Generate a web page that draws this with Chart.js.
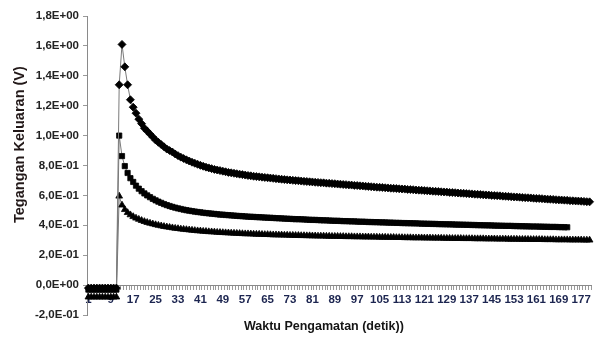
<!DOCTYPE html>
<html>
<head>
<meta charset="utf-8">
<script src="https://cdn.jsdelivr.net/npm/chart.js@4/dist/chart.umd.min.js"></script>
<style>
  html, body { margin: 0; padding: 0; background: #fff; }
  #wrap { width: 596px; height: 343px; }
</style>
</head>
<body>
<div id="wrap"><canvas id="c" width="596" height="343"></canvas></div>
<script>
// Categories: observation time 1..180 (detik)
const categories = [];
for (let i = 1; i <= 180; i++) categories.push(String(i));

// X tick labels shown (every 8th category)
const tickLabels = ['1','9','17','25','33','41','49','57','65','73','81','89','97','105','113','121','129','137','145','153','161','169','177'];

// Y tick values
const yTicks = [-0.2, 0, 0.2, 0.4, 0.6, 0.8, 1.0, 1.2, 1.4, 1.6, 1.8];

// Axis titles
const xTitle = 'Waktu Pengamatan (detik))';
const yTitle = 'Tegangan Keluaran (V)';

// Series 1 (diamonds)
const seriesDiamond = [
  -0.02,-0.02,-0.02,-0.02,-0.02,-0.02,-0.02,-0.02,-0.02,-0.02,
  -0.02,1.34,1.61,1.46,1.34,1.24,1.19,1.15,1.11,1.08,
  1.05,1.03,1.01,0.99,0.97,0.955,0.94,0.925,0.91,0.90,
  0.89,0.877,0.866,0.856,0.847,0.838,0.830,0.822,0.815,0.808,
  0.801,0.795,0.789,0.784,0.779,0.774,0.770,0.766,0.762,0.758,
  0.754,0.751,0.748,0.745,0.742,0.739,0.736,0.733,0.731,0.728,
  0.726,0.724,0.722,0.720,0.718,0.716,0.714,0.712,0.710,0.708,
  0.706,0.704,0.703,0.701,0.699,0.698,0.696,0.694,0.693,0.691,
  0.690,0.688,0.687,0.685,0.684,0.682,0.681,0.679,0.678,0.676,
  0.675,0.673,0.672,0.670,0.669,0.667,0.666,0.664,0.663,0.661,
  0.660,0.658,0.657,0.655,0.654,0.653,0.651,0.650,0.648,0.647,
  0.646,0.644,0.643,0.642,0.640,0.639,0.638,0.636,0.635,0.634,
  0.632,0.631,0.630,0.628,0.627,0.626,0.624,0.623,0.622,0.620,
  0.619,0.618,0.616,0.615,0.614,0.612,0.611,0.610,0.608,0.607,
  0.606,0.604,0.603,0.602,0.600,0.599,0.598,0.597,0.595,0.594,
  0.593,0.591,0.590,0.589,0.588,0.586,0.585,0.584,0.583,0.581,
  0.580,0.579,0.578,0.576,0.575,0.574,0.573,0.571,0.570,0.569,
  0.568,0.567,0.565,0.564,0.563,0.562,0.561,0.560,0.558,0.557
];

// Series 2 (squares)
const seriesSquare = [
  -0.03,-0.03,-0.03,-0.03,-0.03,-0.03,-0.03,-0.03,-0.03,-0.03,
  -0.03,1.00,0.863,0.796,0.75,0.715,0.69,0.665,0.645,0.628,
  0.613,0.60,0.588,0.577,0.567,0.558,0.55,0.542,0.535,0.529,
  0.523,0.518,0.513,0.509,0.505,0.501,0.498,0.495,0.492,0.489,
  0.487,0.484,0.482,0.480,0.478,0.476,0.474,0.472,0.471,0.469,
  0.468,0.466,0.465,0.463,0.462,0.461,0.459,0.458,0.457,0.456,
  0.455,0.454,0.453,0.452,0.451,0.450,0.449,0.448,0.447,0.446,
  0.445,0.444,0.443,0.442,0.441,0.441,0.440,0.439,0.438,0.437,
  0.436,0.436,0.435,0.434,0.433,0.433,0.432,0.431,0.430,0.430,
  0.429,0.428,0.428,0.427,0.426,0.426,0.425,0.424,0.424,0.423,
  0.422,0.422,0.421,0.421,0.420,0.419,0.419,0.418,0.418,0.417,
  0.416,0.416,0.415,0.415,0.414,0.414,0.413,0.413,0.412,0.411,
  0.411,0.410,0.410,0.409,0.409,0.408,0.408,0.407,0.407,0.406,
  0.406,0.405,0.405,0.404,0.404,0.403,0.403,0.402,0.402,0.401,
  0.401,0.400,0.400,0.399,0.399,0.398,0.398,0.397,0.397,0.396,
  0.396,0.396,0.395,0.395,0.394,0.394,0.393,0.393,0.392,0.392,
  0.392,0.391,0.391,0.390,0.390,0.389,0.389,0.389,0.388,0.388,
  0.387,0.387
];

// Series 3 (triangles)
const seriesTriangle = [
  -0.08,-0.08,-0.08,-0.08,-0.08,-0.08,-0.08,-0.08,-0.08,-0.08,
  -0.08,0.595,0.535,0.505,0.485,0.47,0.458,0.448,0.44,0.432,
  0.425,0.419,0.414,0.409,0.404,0.40,0.396,0.392,0.389,0.386,
  0.383,0.380,0.378,0.375,0.373,0.371,0.369,0.367,0.365,0.363,
  0.362,0.360,0.359,0.357,0.356,0.355,0.353,0.352,0.351,0.350,
  0.349,0.348,0.347,0.346,0.345,0.344,0.343,0.343,0.342,0.341,
  0.340,0.340,0.339,0.338,0.338,0.337,0.336,0.336,0.335,0.335,
  0.334,0.334,0.333,0.333,0.332,0.332,0.331,0.331,0.330,0.330,
  0.329,0.329,0.328,0.328,0.328,0.327,0.327,0.326,0.326,0.326,
  0.325,0.325,0.324,0.324,0.324,0.323,0.323,0.323,0.322,0.322,
  0.322,0.321,0.321,0.321,0.320,0.320,0.320,0.319,0.319,0.319,
  0.318,0.318,0.318,0.317,0.317,0.317,0.316,0.316,0.316,0.316,
  0.315,0.315,0.315,0.314,0.314,0.314,0.314,0.313,0.313,0.313,
  0.312,0.312,0.312,0.312,0.311,0.311,0.311,0.311,0.310,0.310,
  0.310,0.310,0.309,0.309,0.309,0.309,0.308,0.308,0.308,0.308,
  0.307,0.307,0.307,0.307,0.306,0.306,0.306,0.306,0.305,0.305,
  0.305,0.305,0.305,0.304,0.304,0.304,0.304,0.303,0.303,0.303,
  0.303,0.303,0.302,0.302,0.302,0.302,0.302,0.301,0.301,0.301
];

function fmtSci(v) {
  const r = Math.round(v * 10) / 10;
  if (Math.abs(r) < 1e-9) return '0,0E+00';
  let e = Math.floor(Math.log10(Math.abs(r)) + 1e-9);
  let m = r / Math.pow(10, e);
  let ms = m.toFixed(1).replace('.', ',');
  let es = (e < 0 ? '-' : '+') + String(Math.abs(e)).padStart(2, '0');
  return ms + 'E' + es;
}

const FONT = "'Liberation Sans', Arial, sans-serif";

// Axis titles placed like the original (Excel-style offsets)
const axisTitlePlugin = {
  id: 'axisTitles',
  afterDraw(chart) {
    const ctx = chart.ctx;
    const ca = chart.chartArea;
    ctx.save();
    ctx.fillStyle = '#151515';
    ctx.textAlign = 'center';
    ctx.textBaseline = 'middle';
    ctx.font = "bold 12.5px " + FONT;
    ctx.fillText(xTitle, ca.left + (ca.right - ca.left) * 0.47, ca.bottom + 12);
    ctx.translate(20, ca.top + (ca.bottom - ca.top) * 0.43);
    ctx.rotate(-Math.PI / 2);
    ctx.font = "bold 14.5px " + FONT;
    ctx.fillStyle = '#221818';
    ctx.fillText(yTitle, 0, 0);
    ctx.restore();
  }
};

const ds = (data, style, radius) => ({
  data,
  borderColor: '#7a7a7a',
  borderWidth: 1,
  pointStyle: style,
  pointRadius: radius,
  pointBackgroundColor: '#000',
  pointBorderColor: '#000',
  pointBorderWidth: 0.8,
  tension: 0,
  fill: false
});

new Chart(document.getElementById('c'), {
  type: 'line',
  data: {
    labels: categories,
    datasets: [
      ds(seriesDiamond, 'rectRot', 4),
      ds(seriesSquare, 'rect', 3.7),
      ds(seriesTriangle, 'triangle', 3.9)
    ]
  },
  plugins: [axisTitlePlugin],
  options: {
    responsive: false,
    animation: false,
    events: [],
    layout: { padding: { left: 12, right: 5, top: 16, bottom: 28 } },
    plugins: {
      legend: { display: false },
      tooltip: { enabled: false },
      title: { display: false }
    },
    scales: {
      x: {
        type: 'category',
        position: { y: 0 },
        offset: true,
        grid: {
          display: true,
          drawOnChartArea: false,
          drawTicks: true,
          tickLength: 4,
          color: '#9a9a9a',
          offset: true
        },
        border: { display: true, color: '#8a8a8a', width: 1 },
        ticks: {
          autoSkip: false,
          maxRotation: 0,
          minRotation: 0,
          padding: 4,
          color: '#1c2550',
          font: { family: FONT, size: 11.5, weight: 'bold' },
          callback: function (val, idx) {
            const lab = this.getLabelForValue(val);
            return tickLabels.includes(lab) ? lab : '';
          }
        }
      },
      y: {
        min: -0.2,
        max: 1.8,
        afterBuildTicks: (scale) => { scale.ticks = yTicks.map(v => ({ value: v })); },
        grid: {
          display: true,
          drawOnChartArea: false,
          drawTicks: true,
          tickLength: 4,
          color: '#9a9a9a'
        },
        border: { display: true, color: '#8a8a8a', width: 1 },
        ticks: {
          padding: 4,
          color: '#222',
          font: { family: FONT, size: 11.5, weight: 'bold' },
          callback: (v) => fmtSci(v)
        },
        title: { display: false },
        afterFit: (scale) => { scale.width = 75; }
      }
    }
  }
});
</script>
</body>
</html>
